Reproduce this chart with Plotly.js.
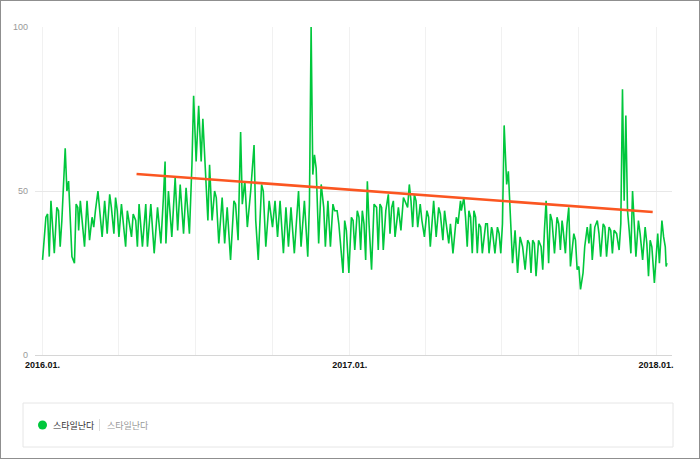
<!DOCTYPE html>
<html>
<head>
<meta charset="utf-8">
<script src="https://cdn.plot.ly/plotly-3.0.1.min.js"></script>
<style>
  html, body { margin:0; padding:0; background:#fff; }
  #wrap { position:relative; width:700px; height:459px; }
  #chart { position:absolute; left:0; top:0; width:700px; height:459px; }
  #frame { position:absolute; left:0; top:0; width:700px; height:459px; box-sizing:border-box; border:1px solid #8f8f8f; pointer-events:none; }
</style>
</head>
<body>
<div id="wrap"><div id="chart"></div><div id="frame"></div></div>
<script>
// Day offsets from 2016-01-01 and search index values
const daysA = [0,4,6,8,10,14,17,19,21,23,27,29,31,35,38,40,42,43,45,50,53,56,59,61,63,66,71,74,77,80,82,85,87,89,91,94,99,101,106,108,111,113,115,119,123,125,129,133,137,141,144,146,147,150,154,158,161,164,168,171,175,178,180];
const valsA = [29,42,43,30,47,31,45,44,33,41,63,50,53,30,28,46,45,38,47,33,47,35,42,39,44,50,36,47,37,49,45,37,48,44,36,46,33,44,36,43,41,33,46,33,46,33,46,31,45,34,48,59,34,50,36,54,38,52,37,51,37,58,79];

const daysB = [183,186,189,191,194,197,199,202,205,207,210,214,217,220,224,228,230,233,236,238,241,244,248,252,254,257,261,263,266,270,274,277,280,283,287,290,293,296,300,305,308,312,316,318,320,322,324,326,329,332,335,337,340,343,346,348,351,353,358,360,362,365];
const valsB = [59,76,59,72,58,41,58,41,50,48,34,48,34,45,29,47,46,35,68,46,53,39,50,64,41,29,52,50,33,47,39,47,36,47,31,45,33,45,31,50,33,47,30,46,100,55,61,57,34,52,45,33,47,33,46,44,44,40,25,41,38,25];

const daysC = [368,370,372,375,377,379,381,383,385,387,389,392,395,398,400,402,404,406,409,412,414,416,418,420,424,425,427,430,432,435,437,439,441,443,445,447,450,452,455,458,460,462,466,469,472,474,477,479,481,484,486,489,493,495,498,499,502,504,506,508,510,512,514,516,518,520,522,524,528,530,532,535,536,539,542,544,546];
const valsC = [42,41,32,44,42,32,44,40,29,53,40,26,46,45,32,46,45,32,44,49,37,45,47,36,45,43,38,48,47,45,52,47,39,49,47,39,46,41,36,44,42,33,47,36,45,43,35,44,40,34,40,31,42,40,47,44,48,42,33,44,42,31,44,42,31,40,39,31,40,40,31,39,38,31,39,37,31];

const daysD = [548,550,553,555,557,560,563,566,569,572,575,578,580,582,584,586,588,591,594,596,598,600,603,605,607,610,613,615,617,619,620,623,625,627,629,633,635,637,639,641,644,646,649,651,653,655,658,661,663,665,668,670,672,675,677,679,681,684,687,689,691,693,695,697,699,701,703,705,707,710,712,715,718,720,722,724,726,729,733,735,738,740,742,743,744];
const valsD = [40,70,52,56,45,28,38,25,36,33,26,35,34,25,35,34,24,35,33,26,38,47,28,43,41,31,42,40,32,41,39,31,40,45,27,37,35,26,27,20,25,33,39,34,40,29,39,41,37,30,40,39,30,39,38,31,38,37,32,40,81,47,73,44,38,31,50,40,30,41,37,29,39,34,24,35,33,22,37,28,41,36,33,27,28];

// Trend line end points (day offset, value)
const trendDays = [112, 727];
const trendVals = [55.2, 43.6];

const gridDates = ['2016-01-01','2016-04-01','2016-07-01','2016-10-01','2017-01-01','2017-04-01','2017-07-01','2017-10-01','2018-01-01'];
const gridLabels = ['2016.01.','','','','2017.01.','','','','2018.01.'];
const yTicks = [0, 50, 100];
const seriesName = '스타일난다';
const groupName = '스타일난다';

const base = Date.UTC(2016, 0, 1);
function toDate(d) {
  return new Date(base + d * 86400000).toISOString().slice(0, 10);
}

const days = daysA.concat(daysB, daysC, daysD);
const vals = valsA.concat(valsB, valsC, valsD);

const traces = [
  {
    x: days.map(toDate), y: vals, type: 'scatter', mode: 'lines',
    line: { color: '#00c73c', width: 1.6 }, name: seriesName, hoverinfo: 'x+y'
  },
  {
    x: trendDays.map(toDate), y: trendVals, type: 'scatter', mode: 'lines',
    line: { color: '#fb5621', width: 2.6 }, hoverinfo: 'skip'
  }
];

const L = 35, R = 672, T = 27, B = 355;
const px = v => (v - L) / (R - L);
const py = v => (B - v) / (B - T);

const layout = {
  width: 700, height: 459,
  margin: { l: L, r: 700 - R, t: T, b: 459 - B, pad: 0 },
  paper_bgcolor: '#fff', plot_bgcolor: '#fff',
  showlegend: false,
  xaxis: {
    type: 'date', range: ['2015-12-23', '2018-01-20'],
    tickmode: 'array', tickvals: gridDates,
    ticktext: gridLabels.map(t => t ? '<b>' + t + '</b>' : ''),
    showgrid: true, gridcolor: '#f1f1f1', gridwidth: 1,
    zeroline: false, showline: false, ticks: '',
    tickfont: { family: 'Liberation Sans, Arial, sans-serif', size: 9, color: '#111' },
    ticklabelstandoff: 3
  },
  yaxis: {
    range: [0, 100], tickmode: 'array', tickvals: yTicks,
    showgrid: true, gridcolor: '#e8e8e8', gridwidth: 1,
    zeroline: true, zerolinecolor: '#d6d6d6', zerolinewidth: 1,
    showline: false, ticks: '',
    tickfont: { family: 'Liberation Sans, Arial, sans-serif', size: 9, color: '#999' },
    ticklabelstandoff: 6
  },
  shapes: [
    { type: 'rect', xref: 'paper', yref: 'paper', x0: px(23), x1: px(673), y0: py(447), y1: py(403),
      line: { color: '#e6e6e6', width: 1 }, fillcolor: '#fff', layer: 'below' },
    { type: 'circle', xref: 'paper', yref: 'paper', xsizemode: 'pixel', ysizemode: 'pixel',
      xanchor: px(42.5), yanchor: py(425), x0: -4.5, x1: 4.5, y0: -4.5, y1: 4.5,
      fillcolor: '#00c73c', line: { width: 0 } },
    { type: 'line', xref: 'paper', yref: 'paper', x0: px(99.5), x1: px(99.5), y0: py(431), y1: py(419),
      line: { color: '#dddddd', width: 1 } }
  ],
  annotations: [
    { xref: 'paper', yref: 'paper', x: px(51), y: py(425), xanchor: 'left', yanchor: 'middle',
      text: seriesName, showarrow: false,
      font: { family: 'Noto Sans CJK KR, sans-serif', size: 9, color: '#333' } },
    { xref: 'paper', yref: 'paper', x: px(105), y: py(425), xanchor: 'left', yanchor: 'middle',
      text: groupName, showarrow: false,
      font: { family: 'Noto Sans CJK KR, sans-serif', size: 9, color: '#999' } }
  ]
};

Plotly.newPlot('chart', traces, layout, { displayModeBar: false, staticPlot: true });
</script>
</body>
</html>
